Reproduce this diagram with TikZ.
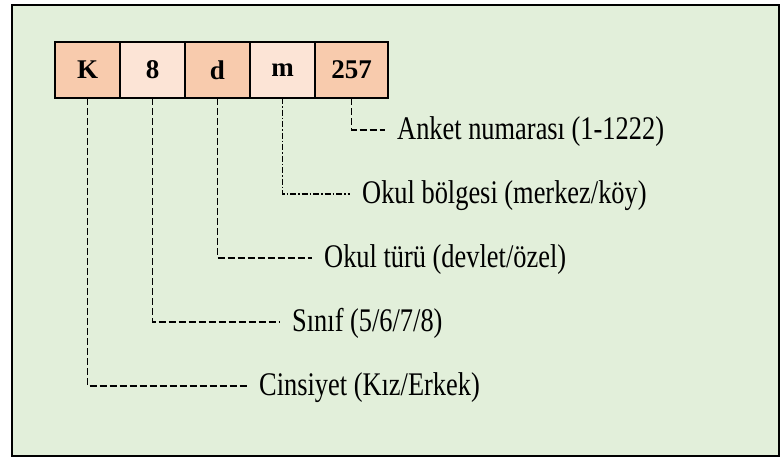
\documentclass[tikz,border=0pt]{standalone}
\usepackage{fontspec}
\setmainfont{Liberation Serif}
\newfontfamily\labelfont[FakeStretch=0.8]{Liberation Serif}
\definecolor{codeDark}{HTML}{F8CBAD}
\definecolor{codeLight}{HTML}{FCE4D6}
\definecolor{panelBg}{HTML}{E2EFDA}
\usetikzlibrary{positioning}

\begin{document}
\begin{tikzpicture}[
  x=1pt, y=-1pt,
  cell/.style={draw, line width=1.8pt, minimum height=56pt, minimum width=65pt, inner sep=0pt, outer sep=0pt, font=\fontsize{27}{30}\selectfont\bfseries},
  dk/.style={cell, fill=codeDark},
  lt/.style={cell, fill=codeLight},
  lab/.style={anchor=west, inner xsep=12pt, inner ysep=0pt, text height=19pt, text depth=0pt, font=\labelfont\fontsize{33}{36}\selectfont},
  lead/.style={line width=1.9pt, dash pattern=on 7pt off 3pt},
  leaddot/.style={line width=1.9pt, dash pattern=on 6pt off 2pt on 1.5pt off 2pt},
  node distance=0pt
]
  \useasboundingbox (0,0) rectangle (782,460);
  \draw[line width=2pt, fill=panelBg] (12,5) rectangle (779,456);

  % code cells
  \node[dk, anchor=north west] (cins) at (55,42) {K};
  \node[lt, right=of cins] (sinif) {8};
  \node[dk, right=of sinif] (tur) {d};
  \node[lt, right=of tur] (bolge) {m};
  \node[dk, right=of bolge, minimum width=73pt] (anket) {257};

  % meanings
  \node[lab] (anketL) at (385,130) {Anket numarası (1-1222)};
  \node[lab] (bolgeL) at (350,194) {Okul bölgesi (merkez/köy)};
  \node[lab] (turL) at (312,258) {Okul türü (devlet/özel)};
  \node[lab] (sinifL) at (280,322) {Sınıf (5/6/7/8)};
  \node[lab] (cinsL) at (247,386) {Cinsiyet (Kız/Erkek)};

  \foreach \a/\b in {cins/cinsL, sinif/sinifL, tur/turL, anket/anketL}
    \draw[lead] (\a.south) |- (\b.west);
  \draw[leaddot] (bolge.south) |- (bolgeL.west);
\end{tikzpicture}
\end{document}
